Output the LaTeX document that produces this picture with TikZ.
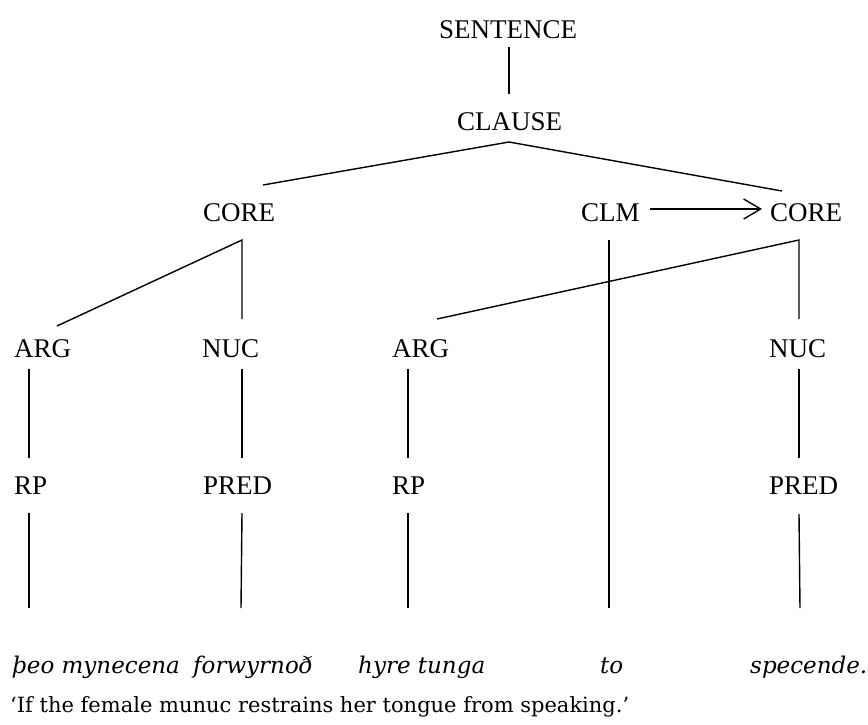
\documentclass[tikz,border=0pt]{standalone}
\usepackage{fontspec}
\setmainfont{Liberation Serif}
\newfontfamily\geo{DejaVu Serif}
\usetikzlibrary{arrows.meta}
\begin{document}
\begin{tikzpicture}[x=1pt,y=-1pt,
  lab/.style={font=\fontsize{27}{30}\selectfont, inner sep=0pt, anchor=base west},
  word/.style={font=\geo\itshape\fontsize{23}{26}\selectfont, inner sep=0pt, anchor=base west},
  gloss/.style={font=\geo\fontsize{21}{24}\selectfont, inner sep=0pt, anchor=base west},
  edge/.style={draw=black, line width=1.4pt},
  arr/.style={edge, -{Straight Barb[length=17pt,width=20pt,line width=1.4pt]}}]
\useasboundingbox (0,0) rectangle (868,724);
% labels
\node[lab] (sentence) at (439,38) {SENTENCE};
\node[lab] (clause) at (457,130) {CLAUSE};
\node[lab] (coreL) at (203,221) {CORE};
\node[lab] (clm) at (581,221) {CLM};
\node[lab] (coreR) at (770,221) {CORE};
\node[lab] (argL) at (14,357) {ARG};
\node[lab] (nucL) at (202,357) {NUC};
\node[lab] (argR) at (392,357) {ARG};
\node[lab] (nucR) at (769,357) {NUC};
\node[lab] (rpL) at (14,494) {RP};
\node[lab] (predL) at (203,494) {PRED};
\node[lab] (rpR) at (392,494) {RP};
\node[lab] (predR) at (769,494) {PRED};
% words
\node[word] (w1) at (12,673) {þeo mynecena};
\node[word] (w2) at (193,673) {forwyrnoð};
\node[word] (w3) at (358,673) {hyre tunga};
\node[word] (w4) at (600,673) {to};
\node[word] (w5) at (750,673) {specende.};
\node[gloss] (tr) at (10,712) {‘If the female munuc restrains her tongue from speaking.’};
% connector end points
\coordinate (sB) at (509,47);
\coordinate (cT) at (509,94);
\coordinate (cB) at (509,142);
\coordinate (coreLT) at (263,185);
\coordinate (coreRT) at (782,191);
\coordinate (coreLB) at (242,240);
\coordinate (argLT) at (57,326);
\coordinate (nucLT) at (242,319);
\coordinate (coreRB) at (799,240);
\coordinate (argRT) at (437,319);
\coordinate (nucRT) at (799,319);
\coordinate (clmB) at (609,240);
\coordinate (toT) at (609,608);
\coordinate (argLB) at (29,369);
\coordinate (rpLT) at (29,458);
\coordinate (nucLB) at (242,369);
\coordinate (predLT) at (242,458);
\coordinate (argRB) at (408,369);
\coordinate (rpRT) at (408,458);
\coordinate (nucRB) at (799,369);
\coordinate (predRT) at (799,458);
\coordinate (rpLB) at (29,513);
\coordinate (w1T) at (29,608);
\coordinate (predLB) at (242,513);
\coordinate (w2T) at (241,608);
\coordinate (rpRB) at (408,513);
\coordinate (w3T) at (408,608);
\coordinate (predRB) at (799,514);
\coordinate (w5T) at (800,608);
\coordinate (arrS) at (650,209);
\coordinate (arrE) at (762,209);
% connectors
\draw[edge] (sB) -- (cT);
\draw[edge] (coreLT) -- (cB) -- (coreRT);
\draw[edge] (argLT) -- (coreLB) -- (nucLT);
\draw[edge] (argRT) -- (coreRB) -- (nucRT);
\draw[edge] (clmB) -- (toT);
\draw[edge] (argLB) -- (rpLT);
\draw[edge] (nucLB) -- (predLT);
\draw[edge] (argRB) -- (rpRT);
\draw[edge] (nucRB) -- (predRT);
\draw[edge] (rpLB) -- (w1T);
\draw[edge] (predLB) -- (w2T);
\draw[edge] (rpRB) -- (w3T);
\draw[edge] (predRB) -- (w5T);
\draw[arr] (arrS) -- (arrE);
\end{tikzpicture}
\end{document}
